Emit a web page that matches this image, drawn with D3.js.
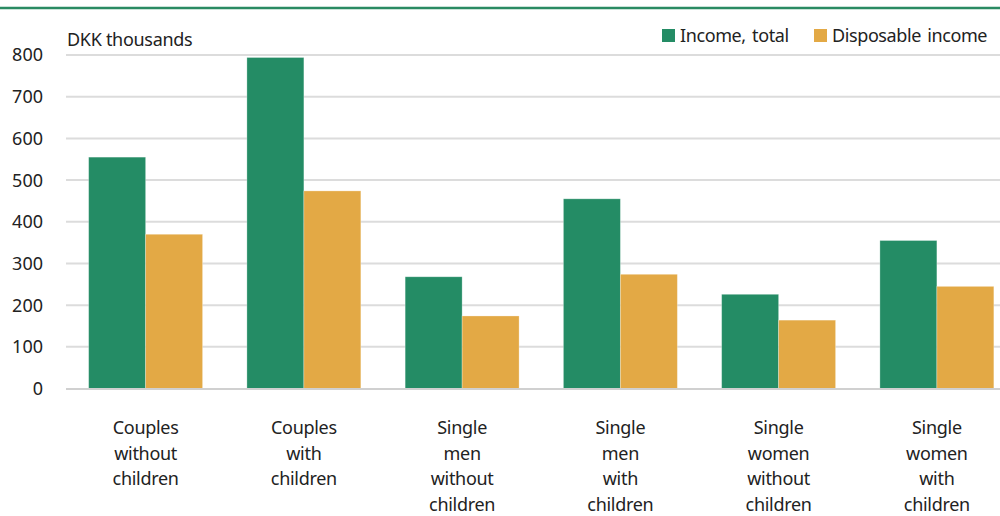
<!DOCTYPE html>
<html>
<head>
<meta charset="utf-8">
<script src="https://cdn.jsdelivr.net/npm/d3@7"></script>
<style>
  html, body { margin: 0; padding: 0; background: #fff; }
  svg { display: block; font-family: "Noto Sans", "Open Sans", sans-serif; }
</style>
</head>
<body>
<svg id="chart" width="1000" height="516"></svg>
<script>
const categories = [
  ["Couples", "without", "children"],
  ["Couples", "with", "children"],
  ["Single", "men", "without", "children"],
  ["Single", "men", "with", "children"],
  ["Single", "women", "without", "children"],
  ["Single", "women", "with", "children"]
];
const seriesNames = ["Income, total", "Disposable income"];
const incomeTotal = [555, 794, 268, 455, 226, 355];
const disposableIncome = [370, 474, 174, 274, 164, 245];
const yTicks = [0, 100, 200, 300, 400, 500, 600, 700, 800];
const unitLabel = "DKK thousands";
const colors = ["#248c65", "#e3a945"];

const svg = d3.select("#chart");
const W = 1000;

// top rule
svg.append("line").attr("x1", 0).attr("x2", W).attr("y1", 8).attr("y2", 8)
  .attr("stroke", "#2a8a62").attr("stroke-width", 2.5);

const y = d3.scaleLinear().domain([0, 800]).range([388.5, 55]);
const x0 = d3.scaleBand().domain(d3.range(categories.length))
  .range([66.5, 1016]).paddingInner(0.28).paddingOuter(0.14);
const x1 = d3.scaleBand().domain([0, 1]).range([0, x0.bandwidth()]);

// grid
svg.append("g").selectAll("line").data(yTicks.filter(t => t > 0)).join("line")
  .attr("x1", 66).attr("x2", W)
  .attr("y1", d => y(d)).attr("y2", d => y(d))
  .attr("stroke", "#dcdcdc").attr("stroke-width", 2);

// y tick labels
svg.append("g").selectAll("text").data(yTicks).join("text")
  .attr("x", 43).attr("y", d => y(d)).attr("dy", "0.36em")
  .attr("text-anchor", "end").attr("font-size", 18).attr("fill", "#222")
  .text(d => d);

// bars
const series = [incomeTotal, disposableIncome];
series.forEach((vals, si) => {
  svg.append("g").selectAll("rect").data(vals).join("rect")
    .attr("x", (d, i) => x0(i) + x1(si))
    .attr("width", x1.bandwidth())
    .attr("y", d => y(d))
    .attr("height", d => y(0) - y(d))
    .attr("fill", colors[si])
    .attr("stroke", "rgba(255,255,255,0.35)").attr("stroke-width", 0.8);
});

// baseline
svg.append("line").attr("x1", 66).attr("x2", W).attr("y1", y(0) + 0.5).attr("y2", y(0) + 0.5)
  .attr("stroke", "#d0d0d0").attr("stroke-width", 2);

// category labels
const lab = svg.append("g");
categories.forEach((lines, i) => {
  const t = lab.append("text")
    .attr("x", x0(i) + x0.bandwidth() / 2)
    .attr("text-anchor", "middle").attr("font-size", 18).attr("fill", "#222")
    .attr("letter-spacing", -0.3);
  lines.forEach((ln, k) => {
    t.append("tspan").attr("x", x0(i) + x0.bandwidth() / 2)
      .attr("y", 434 + k * 25.5).text(ln);
  });
});

// unit label
svg.append("text").attr("x", 67).attr("y", 46).attr("font-size", 18)
  .attr("fill", "#222").attr("letter-spacing", -0.3).text(unitLabel);

// legend
const legendPos = [662, 814];
seriesNames.forEach((name, i) => {
  svg.append("rect").attr("x", legendPos[i]).attr("y", 29).attr("width", 13).attr("height", 13)
    .attr("fill", colors[i]);
  svg.append("text").attr("x", legendPos[i] + 18).attr("y", 42)
    .attr("font-size", 18).attr("fill", "#222").attr("letter-spacing", -0.4)
    .attr("word-spacing", 2).text(name);
});
</script>
</body>
</html>
